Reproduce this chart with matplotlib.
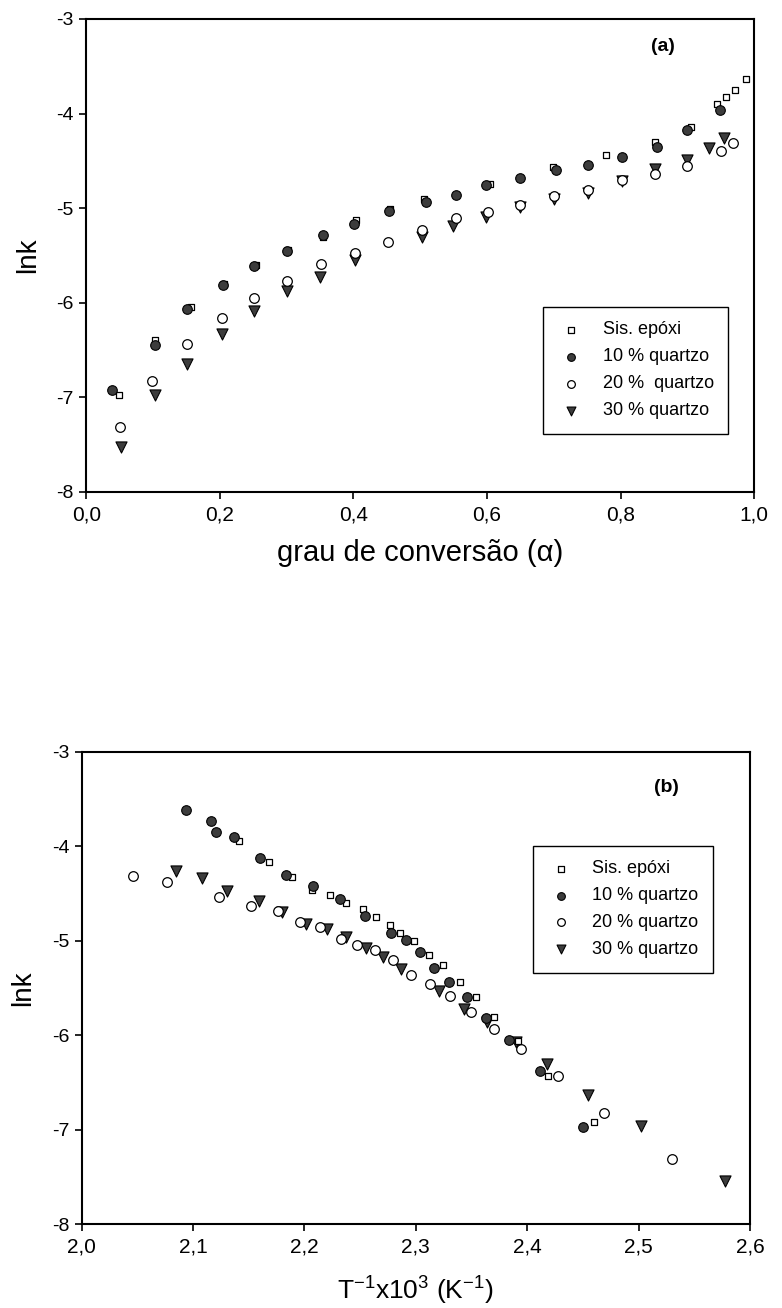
import numpy as np
from matplotlib import pyplot as plt

plt.rcParams['font.family'] = ['Liberation Sans', 'DejaVu Sans']
plt.rcParams['mathtext.default'] = 'regular'

#%%
"DATA (a): lnk vs grau de conversao"
epoxi_a_x = [0.048, 0.102, 0.157, 0.206, 0.254, 0.302, 0.355, 0.404, 0.454, 0.505,
             0.604, 0.699, 0.779, 0.851, 0.905, 0.945, 0.958, 0.972, 0.988]
epoxi_a_y = [-6.97, -6.39, -6.05, -5.80, -5.60, -5.44, -5.31, -5.12, -5.01, -4.90,
             -4.74, -4.56, -4.44, -4.30, -4.14, -3.90, -3.83, -3.75, -3.63]

q10_a_x = [0.038, 0.103, 0.151, 0.205, 0.251, 0.301, 0.354, 0.401, 0.453, 0.509,
           0.553, 0.598, 0.649, 0.703, 0.751, 0.802, 0.855, 0.900, 0.949]
q10_a_y = [-6.92, -6.45, -6.07, -5.81, -5.61, -5.45, -5.28, -5.17, -5.03, -4.94,
           -4.86, -4.76, -4.68, -4.60, -4.54, -4.46, -4.35, -4.17, -3.96]

q20_a_x = [0.050, 0.098, 0.150, 0.203, 0.251, 0.300, 0.351, 0.402, 0.452, 0.502,
           0.553, 0.601, 0.650, 0.700, 0.751, 0.802, 0.851, 0.900, 0.950, 0.969]
q20_a_y = [-7.31, -6.83, -6.44, -6.16, -5.95, -5.77, -5.59, -5.47, -5.36, -5.23,
           -5.10, -5.04, -4.97, -4.87, -4.81, -4.70, -4.64, -4.55, -4.40, -4.31]

q30_a_x = [0.051, 0.102, 0.151, 0.203, 0.251, 0.300, 0.350, 0.402, 0.502, 0.549,
           0.598, 0.650, 0.700, 0.751, 0.802, 0.851, 0.900, 0.933, 0.955]
q30_a_y = [-7.53, -6.97, -6.65, -6.33, -6.09, -5.88, -5.73, -5.55, -5.30, -5.19,
           -5.09, -4.99, -4.90, -4.84, -4.71, -4.59, -4.49, -4.36, -4.26]

"DATA (b): lnk vs 1/T"
epoxi_b_x = [2.141, 2.168, 2.189, 2.207, 2.223, 2.2375, 2.2525, 2.2645, 2.2765, 2.286,
             2.2987, 2.3115, 2.3245, 2.340, 2.354, 2.3705, 2.392, 2.419, 2.4598]
epoxi_b_y = [-3.94, -4.17, -4.32, -4.46, -4.51, -4.60, -4.66, -4.75, -4.835, -4.92,
             -5.00, -5.15, -5.26, -5.435, -5.595, -5.81, -6.06, -6.435, -6.92]

q10_b_x = [2.0935, 2.116, 2.121, 2.137, 2.160, 2.183, 2.208, 2.2315, 2.2546, 2.2777,
           2.291, 2.3034, 2.316, 2.3295, 2.346, 2.363, 2.3834, 2.411, 2.450]
q10_b_y = [-3.615, -3.735, -3.845, -3.905, -4.12, -4.30, -4.42, -4.56, -4.74, -4.92,
           -4.99, -5.12, -5.29, -5.44, -5.595, -5.82, -6.05, -6.38, -6.97]

q20_b_x = [2.046, 2.077, 2.123, 2.152, 2.176, 2.196, 2.214, 2.233, 2.247, 2.2636,
           2.2795, 2.2957, 2.3124, 2.331, 2.3496, 2.3705, 2.3945, 2.4274, 2.4688, 2.5296]
q20_b_y = [-4.315, -4.38, -4.54, -4.63, -4.68, -4.80, -4.85, -4.98, -5.04, -5.10,
           -5.20, -5.36, -5.46, -5.59, -5.75, -5.93, -6.15, -6.435, -6.825, -7.31]

q30_b_x = [2.085, 2.108, 2.130, 2.159, 2.180, 2.2016, 2.220, 2.237, 2.2555, 2.2705,
           2.2867, 2.321, 2.343, 2.364, 2.390, 2.418, 2.4544, 2.5024, 2.5775]
q30_b_y = [-4.26, -4.34, -4.47, -4.58, -4.69, -4.82, -4.88, -4.965, -5.08, -5.17,
           -5.30, -5.53, -5.72, -5.86, -6.07, -6.31, -6.63, -6.96, -7.54]

labels_a = ['Sis. epóxi', '10 % quartzo', '20 %  quartzo', '30 % quartzo']
labels_b = ['Sis. epóxi', '10 % quartzo', '20 % quartzo', '30 % quartzo']

xticks_a = [0.0, 0.2, 0.4, 0.6, 0.8, 1.0]
xticklabels_a = ['0,0', '0,2', '0,4', '0,6', '0,8', '1,0']
xticks_b = [2.0, 2.1, 2.2, 2.3, 2.4, 2.5, 2.6]
xticklabels_b = ['2,0', '2,1', '2,2', '2,3', '2,4', '2,5', '2,6']
yticks = [-8, -7, -6, -5, -4, -3]

#%%
"PLOTS"
fig = plt.figure(figsize=(7.82, 13.08), dpi=100)
ax = fig.add_axes([0.1106, 0.6239, 0.8536, 0.3616])
bx = fig.add_axes([0.1045, 0.0642, 0.8546, 0.3609])

gray = '#3c3c3c'
sq = dict(marker='s', s=24, facecolors='white', edgecolors='k', linewidths=0.9)
fc = dict(marker='o', s=48, facecolors=gray, edgecolors='k', linewidths=0.8)
oc = dict(marker='o', s=48, facecolors='white', edgecolors='k', linewidths=0.9)
tr = dict(marker='v', s=64, facecolors=gray, edgecolors='k', linewidths=0.8)

ax.scatter(q30_a_x, q30_a_y, label=labels_a[3], zorder=3, **tr)
ax.scatter(q20_a_x, q20_a_y, label=labels_a[2], zorder=4, **oc)
ax.scatter(q10_a_x, q10_a_y, label=labels_a[1], zorder=5, **fc)
ax.scatter(epoxi_a_x, epoxi_a_y, label=labels_a[0], zorder=4, **sq)

bx.scatter(q30_b_x, q30_b_y, label=labels_b[3], zorder=3, **tr)
bx.scatter(q20_b_x, q20_b_y, label=labels_b[2], zorder=4, **oc)
bx.scatter(q10_b_x, q10_b_y, label=labels_b[1], zorder=5, **fc)
bx.scatter(epoxi_b_x, epoxi_b_y, label=labels_b[0], zorder=4, **sq)

for a in (ax, bx):
    a.set_ylim((-8, -3))
    a.set_yticks(yticks)
    a.set_yticklabels([str(t) for t in yticks])
    a.tick_params(direction='out', length=5, width=1.2, top=False, right=False, pad=4)
    a.tick_params(axis='y', labelsize=14)
    a.tick_params(axis='x', labelsize=15, pad=5)
    for sp in a.spines.values():
        sp.set_linewidth(1.5)
    a.set_ylabel('lnk', fontsize=20, labelpad=11)
    handles, labs = a.get_legend_handles_labels()
    order = [3, 2, 1, 0]
    a.legend([handles[i] for i in order], [labs[i] for i in order],
             scatterpoints=1, fontsize=13, frameon=True, fancybox=False,
             edgecolor='k', framealpha=1, borderpad=0.8, labelspacing=0.55,
             handletextpad=1.0, handlelength=1.5, markerscale=0.8, borderaxespad=0,
             loc='upper left', bbox_to_anchor=(0.684, 0.391) if a is ax else (0.675, 0.801))
    a.get_legend().get_frame().set_linewidth(1.0)

ax.set_xlim((0, 1))
ax.set_xticks(xticks_a)
ax.set_xticklabels(xticklabels_a)
ax.set_xlabel('grau de conversão (α)', fontsize=21, labelpad=10)

bx.set_xlim((2.0, 2.6))
bx.set_xticks(xticks_b)
bx.set_xticklabels(xticklabels_b)
bx.set_xlabel('T$^{-1}$x10$^{3}$ (K$^{-1}$)', fontsize=19, labelpad=13)

"TEXT"
ax.text(0.864, 0.941, '(a)', transform=ax.transAxes, fontsize=14, fontweight='bold',
        ha='center', va='center')
bx.text(0.875, 0.925, '(b)', transform=bx.transAxes, fontsize=14, fontweight='bold',
        ha='center', va='center')

fig.savefig('out.png', dpi=100)
